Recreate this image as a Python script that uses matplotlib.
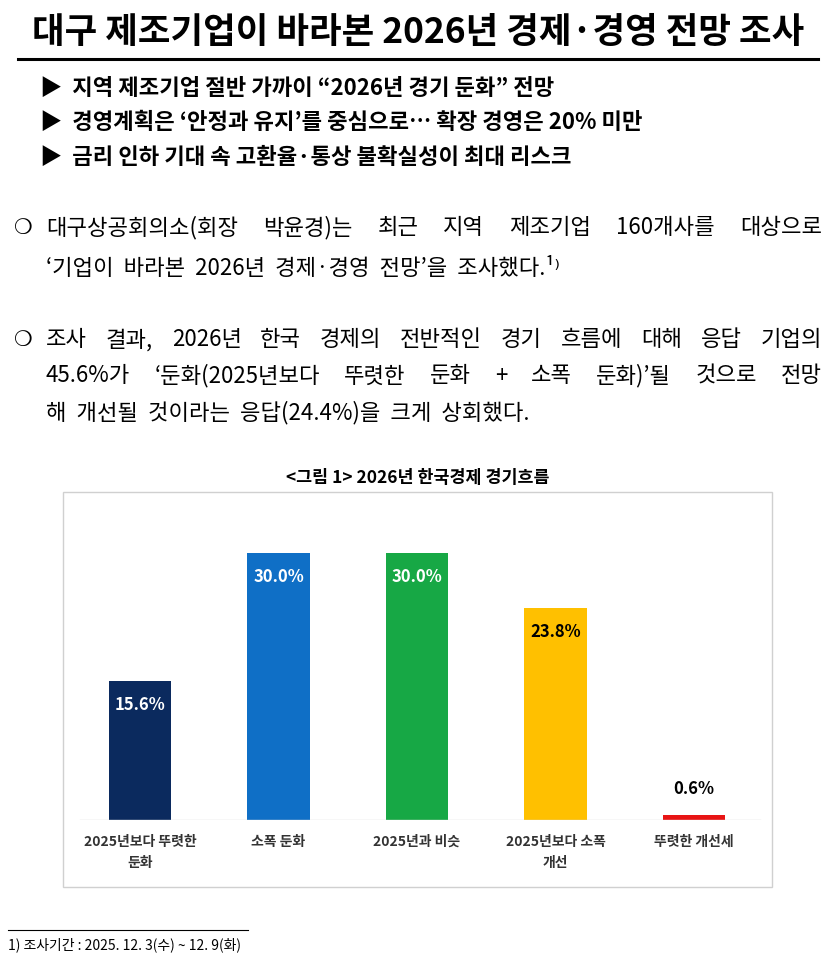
import matplotlib
matplotlib.use("Agg")
import matplotlib.pyplot as plt
from matplotlib.patches import Rectangle
from matplotlib.lines import Line2D

plt.rcParams['font.family'] = ['Noto Sans CJK KR', 'DejaVu Sans']

categories = ["2025년보다 뚜렷한\n둔화", "소폭 둔화", "2025년과 비슷", "2025년보다 소폭\n개선", "뚜렷한 개선세"]
values = [15.6, 30.0, 30.0, 23.8, 0.6]
colors = ["#0b2a5e", "#0f6fc6", "#17a845", "#ffc000", "#e81414"]
label_colors = ["white", "white", "white", "black", "black"]

W, H = 839, 968
fig = plt.figure(figsize=(W/100, H/100), dpi=100)
renderer = fig.canvas.get_renderer()

def fx(x): return x / W
def fy(y): return 1 - y / H

# Title
fig.text(fx(418), fy(33), "대구 제조기업이 바라본 2026년 경제·경영 전망 조사", ha='center', va='center',
         fontsize=25.5, fontweight='bold')
fig.add_artist(Line2D([fx(18), fx(818)], [fy(59), fy(59)], color='black', lw=2.2))

bullets = ["▶  지역 제조기업 절반 가까이 “2026년 경기 둔화” 전망",
           "▶  경영계획은 ‘안정과 유지’를 중심으로… 확장 경영은 20% 미만",
           "▶  금리 인하 기대 속 고환율·통상 불확실성이 최대 리스크"]
for i, b in enumerate(bullets):
    fig.text(fx(40), fy(88 + i*34.5), b, ha='left', va='center', fontsize=16, fontweight='bold')

para_fs = 16

def justified(y, text, x0=46, x1=822):
    words = text.split(" ")
    arts = [fig.text(0, fy(y), w, ha='left', va='center', fontsize=para_fs) for w in words]
    widths = [a.get_window_extent(renderer).width for a in arts]
    gap = (x1 - x0 - sum(widths)) / max(len(words) - 1, 1)
    x = x0
    for a, w in zip(arts, widths):
        a.set_x(fx(x))
        x += w + gap

def plain(y, text, x0=46):
    fig.text(fx(x0), fy(y), text, ha='left', va='center', fontsize=para_fs)

fig.text(fx(14), fy(228), "❍", ha='left', va='center', fontsize=15, family=['DejaVu Sans'])
justified(228, "대구상공회의소(회장 박윤경)는 최근 지역 제조기업 160개사를 대상으로")
plain(268, "‘기업이  바라본  2026년  경제·경영  전망’을  조사했다.¹⁾")

fig.text(fx(14), fy(340), "❍", ha='left', va='center', fontsize=15, family=['DejaVu Sans'])
justified(340, "조사 결과, 2026년 한국 경제의 전반적인 경기 흐름에 대해 응답 기업의")
justified(376, "45.6%가 ‘둔화(2025년보다 뚜렷한 둔화 + 소폭 둔화)’될 것으로 전망")
plain(413, "해  개선될  것이라는  응답(24.4%)을  크게  상회했다.")

# Chart title
fig.text(fx(418), fy(478), "<그림 1> 2026년 한국경제 경기흐름", ha='center', va='center', fontsize=12.5, fontweight='bold')

# Chart box
fig.add_artist(Rectangle((fx(63), fy(887)), fx(772-63), (887-492)/H, transform=fig.transFigure,
                         fill=False, edgecolor='#d0d0d0', lw=1))

ppp = 8.9
ax = fig.add_axes([fx(63), fy(820), fx(772-63), (820-492)/H])
ax.set_xlim((63-140)/138.5, (772-140)/138.5)
ax.set_ylim(0, (820-492)/ppp)
ax.axis('off')
x = list(range(len(values)))
ax.bar(x, values, width=0.45, color=colors)
ax.plot([(80-140)/138.5, (760-140)/138.5], [0, 0], color='#d9d9d9', lw=1)
for xi, v, lc in zip(x, values, label_colors):
    if v > 3:
        ax.text(xi, v - 2.7, f"{v:.1f}%", ha='center', va='center', color=lc, fontsize=12, fontweight='bold')
    else:
        ax.text(xi, v + 2.9, f"{v:.1f}%", ha='center', va='center', color=lc, fontsize=12, fontweight='bold')
for xi, c in zip(x, categories):
    ax.text(xi, -1.7, c, ha='center', va='top', fontsize=10, fontweight='bold', color='#333333', linespacing=1.6)

# Footnote
fig.add_artist(Line2D([fx(8), fx(248)], [fy(930), fy(930)], color='black', lw=0.8))
fig.text(fx(8), fy(945), "1) 조사기간 : 2025. 12. 3(수) ~ 12. 9(화)", ha='left', va='center', fontsize=10)

fig.savefig("out.png", dpi=100, facecolor='white')
